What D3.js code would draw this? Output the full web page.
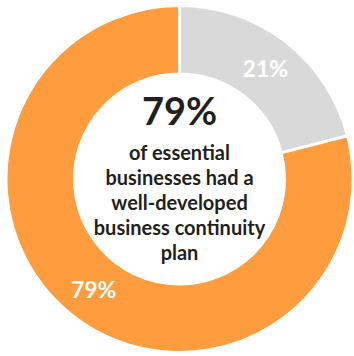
<!DOCTYPE html>
<html>
<head>
<meta charset="utf-8">
<script src="https://cdn.jsdelivr.net/npm/d3@7"></script>
<style>
  html, body { margin: 0; padding: 0; background: #ffffff; }
  svg { display: block; }
  text { font-family: Lato, "Open Sans", sans-serif; font-weight: 700; }
</style>
</head>
<body>
<svg id="chart" width="354" height="356"></svg>
<script>
// Share of essential businesses by plan status
const categories = ["No well-developed plan", "Well-developed plan"];
const values = [21, 79];
const sliceLabels = ["21%", "79%"];
const colors = ["#d9d9d9", "#fe9c3e"];
const headline = "79%";
const captionLines = ["of essential", "businesses had a", "well-developed", "business continuity", "plan"];

const svg = d3.select("#chart");
const cx = 179.5, cy = 179;
const outerR = 173.5, innerR = 105;

const g = svg.append("g").attr("transform", `translate(${cx},${cy})`);

const pie = d3.pie().sort(null).value(d => d)(values);
const arc = d3.arc().innerRadius(innerR).outerRadius(outerR);
const labelArc = d3.arc().innerRadius(140).outerRadius(140);

g.selectAll("path.slice")
  .data(pie)
  .join("path")
  .attr("class", "slice")
  .attr("d", arc)
  .attr("fill", (d, i) => colors[i])
  .attr("stroke", "#ffffff")
  .attr("stroke-width", 3);

g.selectAll("text.pct")
  .data(pie)
  .join("text")
  .attr("class", "pct")
  .attr("transform", d => `translate(${labelArc.centroid(d)})`)
  .attr("text-anchor", "middle")
  .attr("dy", "0.36em")
  .attr("fill", "#ffffff")
  .attr("font-size", 23)
  .text((d, i) => sliceLabels[i]);

// Centre statement
g.append("text")
  .attr("text-anchor", "middle")
  .attr("y", 125 - cy)
  .attr("fill", "#231f20")
  .attr("font-size", 38)
  .text(headline);

g.selectAll("text.caption")
  .data(captionLines)
  .join("text")
  .attr("class", "caption")
  .attr("text-anchor", "middle")
  .attr("y", (d, i) => 160 - cy + i * 25)
  .attr("fill", "#231f20")
  .attr("font-size", 20)
  .text(d => d);
</script>
</body>
</html>
